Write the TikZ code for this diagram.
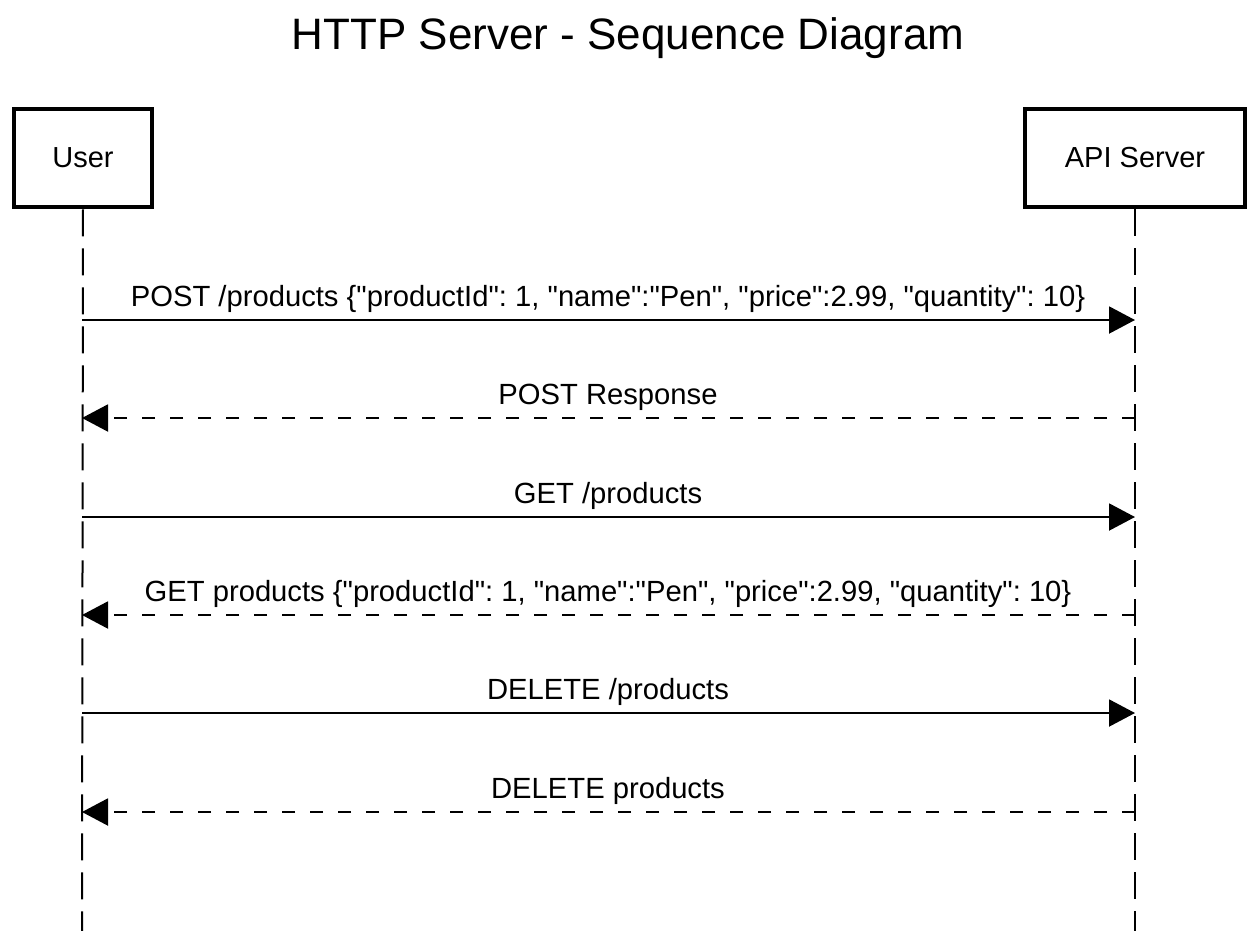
\documentclass[tikz,border=0pt]{standalone}
\usepackage{fontspec}
\setmainfont{Liberation Sans}[Ligatures=TeXOff]
\usetikzlibrary{arrows.meta}
\frenchspacing
\begin{document}
\begin{tikzpicture}[x=1pt,y=-1pt,
  actor/.style={draw=black, line width=4.5pt, fill=white, inner sep=0pt, font=\fontsize{29}{34}\selectfont},
  lifeline/.style={draw=black, line width=2pt, dash pattern=on 27pt off 12pt},
  call/.style={draw=black, line width=2pt, -{Triangle[length=26pt,width=27pt]}},
  reply/.style={call, dash pattern=on 13pt off 15pt},
  msg/.style={font=\fontsize{29.2}{34}\selectfont, anchor=base, inner sep=0pt},
]
\useasboundingbox (0,0) rectangle (1256,930);
\node[anchor=base, inner sep=0pt, font=\fontsize{44}{50}\selectfont] (title) at (628,49) {HTTP Server - Sequence Diagram};

\node[actor, minimum width=138pt, minimum height=98pt] (user) at (83,158) {User};
\node[actor, minimum width=220pt, minimum height=98pt] (api) at (1135,158) {API Server};

\coordinate (userEnd) at (82,935);
\coordinate (apiEnd) at (1135,935);
\draw[lifeline] (user.south) -- (userEnd);
\draw[lifeline] (api.south) -- (apiEnd);

\foreach \i/\y in {1/320,2/418,3/517,4/615,5/713,6/812}{
  \coordinate (u\i) at (82,\y);
  \coordinate (a\i) at (1135,\y);
}

\draw[call] (u1) -- (a1);
\node[msg] (m1) at (608,306) {POST /products \{"productId": 1, "name":"Pen", "price":2.99, "quantity": 10\}};
\draw[reply] (a2) -- (u2);
\node[msg] (m2) at (608,404) {POST Response};
\draw[call] (u3) -- (a3);
\node[msg] (m3) at (608,503) {GET /products};
\draw[reply] (a4) -- (u4);
\node[msg] (m4) at (608,601) {GET products \{"productId": 1, "name":"Pen", "price":2.99, "quantity": 10\}};
\draw[call] (u5) -- (a5);
\node[msg] (m5) at (608,699) {DELETE /products};
\draw[reply] (a6) -- (u6);
\node[msg] (m6) at (608,798) {DELETE products};
\end{tikzpicture}
\end{document}
